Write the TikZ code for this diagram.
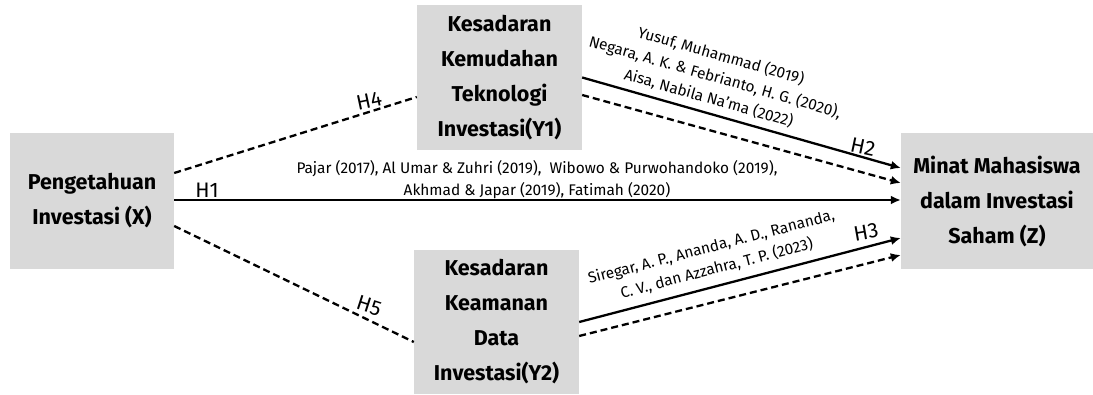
\documentclass[tikz,border=0pt]{standalone}
\usepackage{fontspec}
\setmainfont{Fira Sans}
\usetikzlibrary{arrows.meta}
\begin{document}
\begin{tikzpicture}[x=1pt,y=-1pt,
  box/.style={draw=none,fill=boxgray,inner sep=0pt,align=center,
    font=\fontsize{21.5}{35}\selectfont\bfseries},
  cite/.style={inner sep=0pt,align=center,font=\fontsize{15.4}{22}\selectfont},
  hlab/.style={inner sep=0pt,font=\fontsize{21}{24}\selectfont},
  conn/.style={line width=2.3pt},
  dconn/.style={line width=2.3pt,dash pattern=on 7pt off 4pt},
  arr/.style={-{Latex[length=10pt,width=9pt]}}
]
\definecolor{boxgray}{HTML}{D9D9D9}
\useasboundingbox (0,0) rectangle (1093,394);
\fill[white] (0,0) rectangle (1093,394);

\node[box,minimum width=164pt,minimum height=136pt] (X) at (92,201) {Pengetahuan\\Investasi (X)};
\node[box,minimum width=165pt,minimum height=145pt] (Y1) at (499.5,77.5) {Kesadaran\\Kemudahan\\Teknologi\\Investasi(Y1)};
\node[box,minimum width=165pt,minimum height=144pt] (Y2) at (496.5,322) {Kesadaran\\Keamanan\\Data\\Investasi(Y2)};
\node[box,minimum width=192pt,minimum height=136pt] (Z) at (997,201) {Minat Mahasiswa\\dalam Investasi\\Saham (Z)};

% H1
\draw[conn,arr] ([yshift=1pt]X.east) -- ([yshift=1pt]Z.west);
% H4
\draw[dconn] ([yshift=28pt]X.east) -- ([yshift=-19.5pt]Y1.west);
% H5
\draw[dconn] ([yshift=-25pt]X.east) -- ([yshift=-20pt]Y2.west);
% Y1 -> Z
\draw[conn,arr] (Y1.east) -- ([yshift=33pt]Z.west);
\draw[dconn,arr] ([yshift=-17.5pt]Y1.east) -- ([yshift=18pt]Z.west);
% Y2 -> Z
\draw[conn,arr] (Y2.east) -- ([yshift=-37pt]Z.west);
\draw[dconn,arr] ([yshift=-14pt]Y2.east) -- ([yshift=-54pt]Z.west);

% labels
\node[hlab] (lh1) at (207,190) {H1};
\node[hlab,rotate=12] (lh4) at (369,101) {H4};
\node[hlab,rotate=-18] (lh5) at (369,306) {H5};
\node[hlab,rotate=-12] (lh2) at (863,147) {H2};
\node[hlab,rotate=10] (lh3) at (866,232) {H3};

\node[cite] (c1) at (537,180) {Pajar (2017), Al Umar \& Zuhri (2019),\ \ Wibowo \& Purwohandoko (2019),\\Akhmad \& Japar (2019), Fatimah (2020)};
\node[cite,rotate=-16] (c2) at (715,77) {Yusuf, Muhammad (2019)\\Negara, A. K. \& Febrianto, H. G. (2020),\\Aisa, Nabila Na’ma (2022)};
\node[cite,rotate=14.6] (c3) at (714,258) {Siregar, A. P., Ananda, A. D., Rananda,\\C. V., dan Azzahra, T. P. (2023)};
\end{tikzpicture}
\end{document}
